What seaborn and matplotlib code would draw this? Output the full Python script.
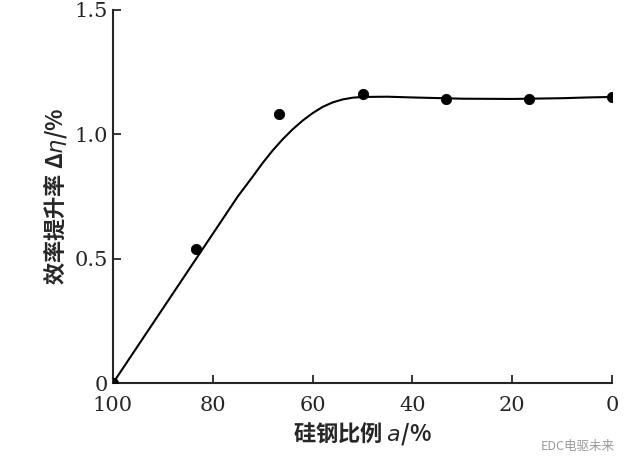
import matplotlib
matplotlib.use("Agg")
import matplotlib.pyplot as plt
import seaborn as sns

sns.set_style("ticks")
plt.rcParams['font.family'] = ['DejaVu Serif', 'Noto Sans CJK SC']

pts_x = [100, 83.3, 66.7, 50, 33.3, 16.7, 0]
pts_y = [0.0, 0.54, 1.08, 1.16, 1.14, 1.14, 1.15]
curve_x = [100, 95, 90, 85, 80, 75, 72, 70, 68, 66, 64, 62, 60, 58, 56, 54, 52, 50, 45, 40, 30, 20, 10, 5, 0]
curve_y = [0.0, 0.15, 0.30, 0.45, 0.60, 0.75, 0.83, 0.885, 0.935, 0.98, 1.02, 1.055, 1.085, 1.11, 1.128, 1.14, 1.147, 1.15, 1.151, 1.148, 1.143, 1.142, 1.145, 1.148, 1.15]

fig = plt.figure(figsize=(6.24, 4.69), dpi=100)
ax = fig.add_axes([0.181, 0.183, 0.80, 0.796])
sns.lineplot(x=curve_x, y=curve_y, ax=ax, color='black', lw=1.5)
sns.scatterplot(x=pts_x, y=pts_y, ax=ax, color='black', s=55, edgecolor='black', zorder=3)
ax.set_xlim(100, 0)
ax.set_ylim(0, 1.5)
ax.set_xticks([100, 80, 60, 40, 20, 0])
ax.set_yticks([0, 0.5, 1.0, 1.5])
ax.set_yticklabels(['0', '0.5', '1.0', '1.5'])
ax.tick_params(direction='in', labelsize=15, width=1.3, length=6)
ax.tick_params(axis='x', pad=9)
for s in ['left', 'bottom']:
    ax.spines[s].set_linewidth(1.5)
sns.despine(ax=ax)
ax.set_xlabel('硅钢比例 $a$/%', fontsize=16, fontweight='bold', family=['Noto Sans CJK SC', 'DejaVu Serif'])
ax.set_ylabel('效率提升率 Δ$\\eta$/%', fontsize=16, fontweight='bold', family=['Noto Sans CJK SC', 'DejaVu Serif'])
fig.text(0.985, 0.04, 'EDC电驱未来', ha='right', fontsize=9, color='#999999', family=['Noto Sans CJK SC'])
fig.savefig('out.png', dpi=100)
